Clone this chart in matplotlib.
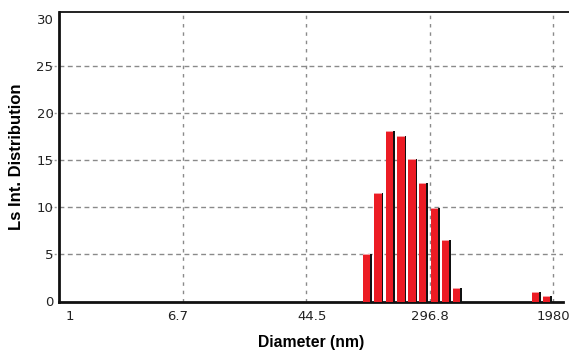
import numpy as np
import matplotlib
matplotlib.use("Agg")
import matplotlib.pyplot as plt
import matplotlib.transforms as mtransforms

# Data
diameters = [112.7, 134.6, 159.9, 191.2, 225.4, 265.0, 318.7, 377.6, 449.0, 1505.0, 1780.0]
intensity = [5.0, 11.5, 18.1, 17.6, 15.1, 12.6, 9.9, 6.5, 1.4, 1.0, 0.6]
x_ticks = [1, 6.7, 44.5, 296.8, 1980]
x_tick_labels = ["1", "6.7", "44.5", "296.8", "1980"]
y_ticks = [0, 5, 10, 15, 20, 25, 30]

fig = plt.figure(figsize=(5.69, 3.51), dpi=100)
ax = fig.add_axes([59 / 569, 1 - 301.5 / 351, (563 - 59) / 569, (301.5 - 12) / 351])
ax.set_xscale("log")
ax.set_xlim(1, 2300)
ax.set_ylim(0, 30.7)

c = np.array(diameters)
h = np.array(intensity)
k = 1.0594      # half-width factor in log space
s = 1.024       # shadow shift factor
red = "#ec1c24"
ax.bar(c / k * s, h, width=c * k * s - c / k * s, align="edge", color="#111111",
       edgecolor="none", zorder=3)
ax.bar(c / k, h, width=c * k - c / k, align="edge", color=red,
       edgecolor="none", zorder=4)
ax.bar(c / k, np.full_like(h, 0.12), bottom=h - 0.12, width=c * k - c / k,
       align="edge", color="#f6a0a4", edgecolor="none", zorder=5)

# grid
for yv in y_ticks[1:-1]:
    ax.axhline(yv, color="#8a8a8a", lw=1.0, ls=(0, (3.5, 2.5)), zorder=1)
    ax.plot([-0.018, 0], [yv, yv], transform=mtransforms.blended_transform_factory(ax.transAxes, ax.transData),
            color="#9a9a9a", lw=1.0, ls=(0, (1.5, 1.5)), clip_on=False, zorder=1)
for xv in x_ticks[1:]:
    ax.axvline(xv, color="#8a8a8a", lw=1.0, ls=(0, (2.5, 3.5)), zorder=1)

ax.set_xticks(x_ticks)
ax.set_xticklabels(x_tick_labels)
ax.xaxis.set_minor_locator(matplotlib.ticker.NullLocator())
ax.set_yticks(y_ticks)
ax.tick_params(axis="both", length=0, labelsize=9.5, colors="#222222")
ax.tick_params(axis="x", pad=6)
ax.tick_params(axis="y", pad=4)
offsets = [10.7, -5.6, 5.7, 0, 0]
for lab, dx in zip(ax.get_xticklabels(), offsets):
    lab.set_transform(lab.get_transform() + mtransforms.ScaledTranslation(dx / 100, 0, fig.dpi_scale_trans))

ax.spines["right"].set_visible(False)
ax.spines["left"].set_linewidth(2.0)
ax.spines["bottom"].set_linewidth(2.0)
ax.spines["top"].set_visible(False)
for sp in ax.spines.values():
    sp.set_color("#111111")
# top border runs to the right edge of the figure
ax.plot([0, 1.02], [1, 1], transform=ax.transAxes, color="#111111", lw=1.3,
        clip_on=False, zorder=6, solid_capstyle="butt")

ax.set_xlabel("Diameter (nm)", fontsize=11.3, family="Liberation Sans", weight="bold", labelpad=9)
ax.set_ylabel("Ls Int. Distribution", fontsize=12, family="Liberation Sans", weight="bold", labelpad=9)

fig.savefig("out.png", dpi=100)
